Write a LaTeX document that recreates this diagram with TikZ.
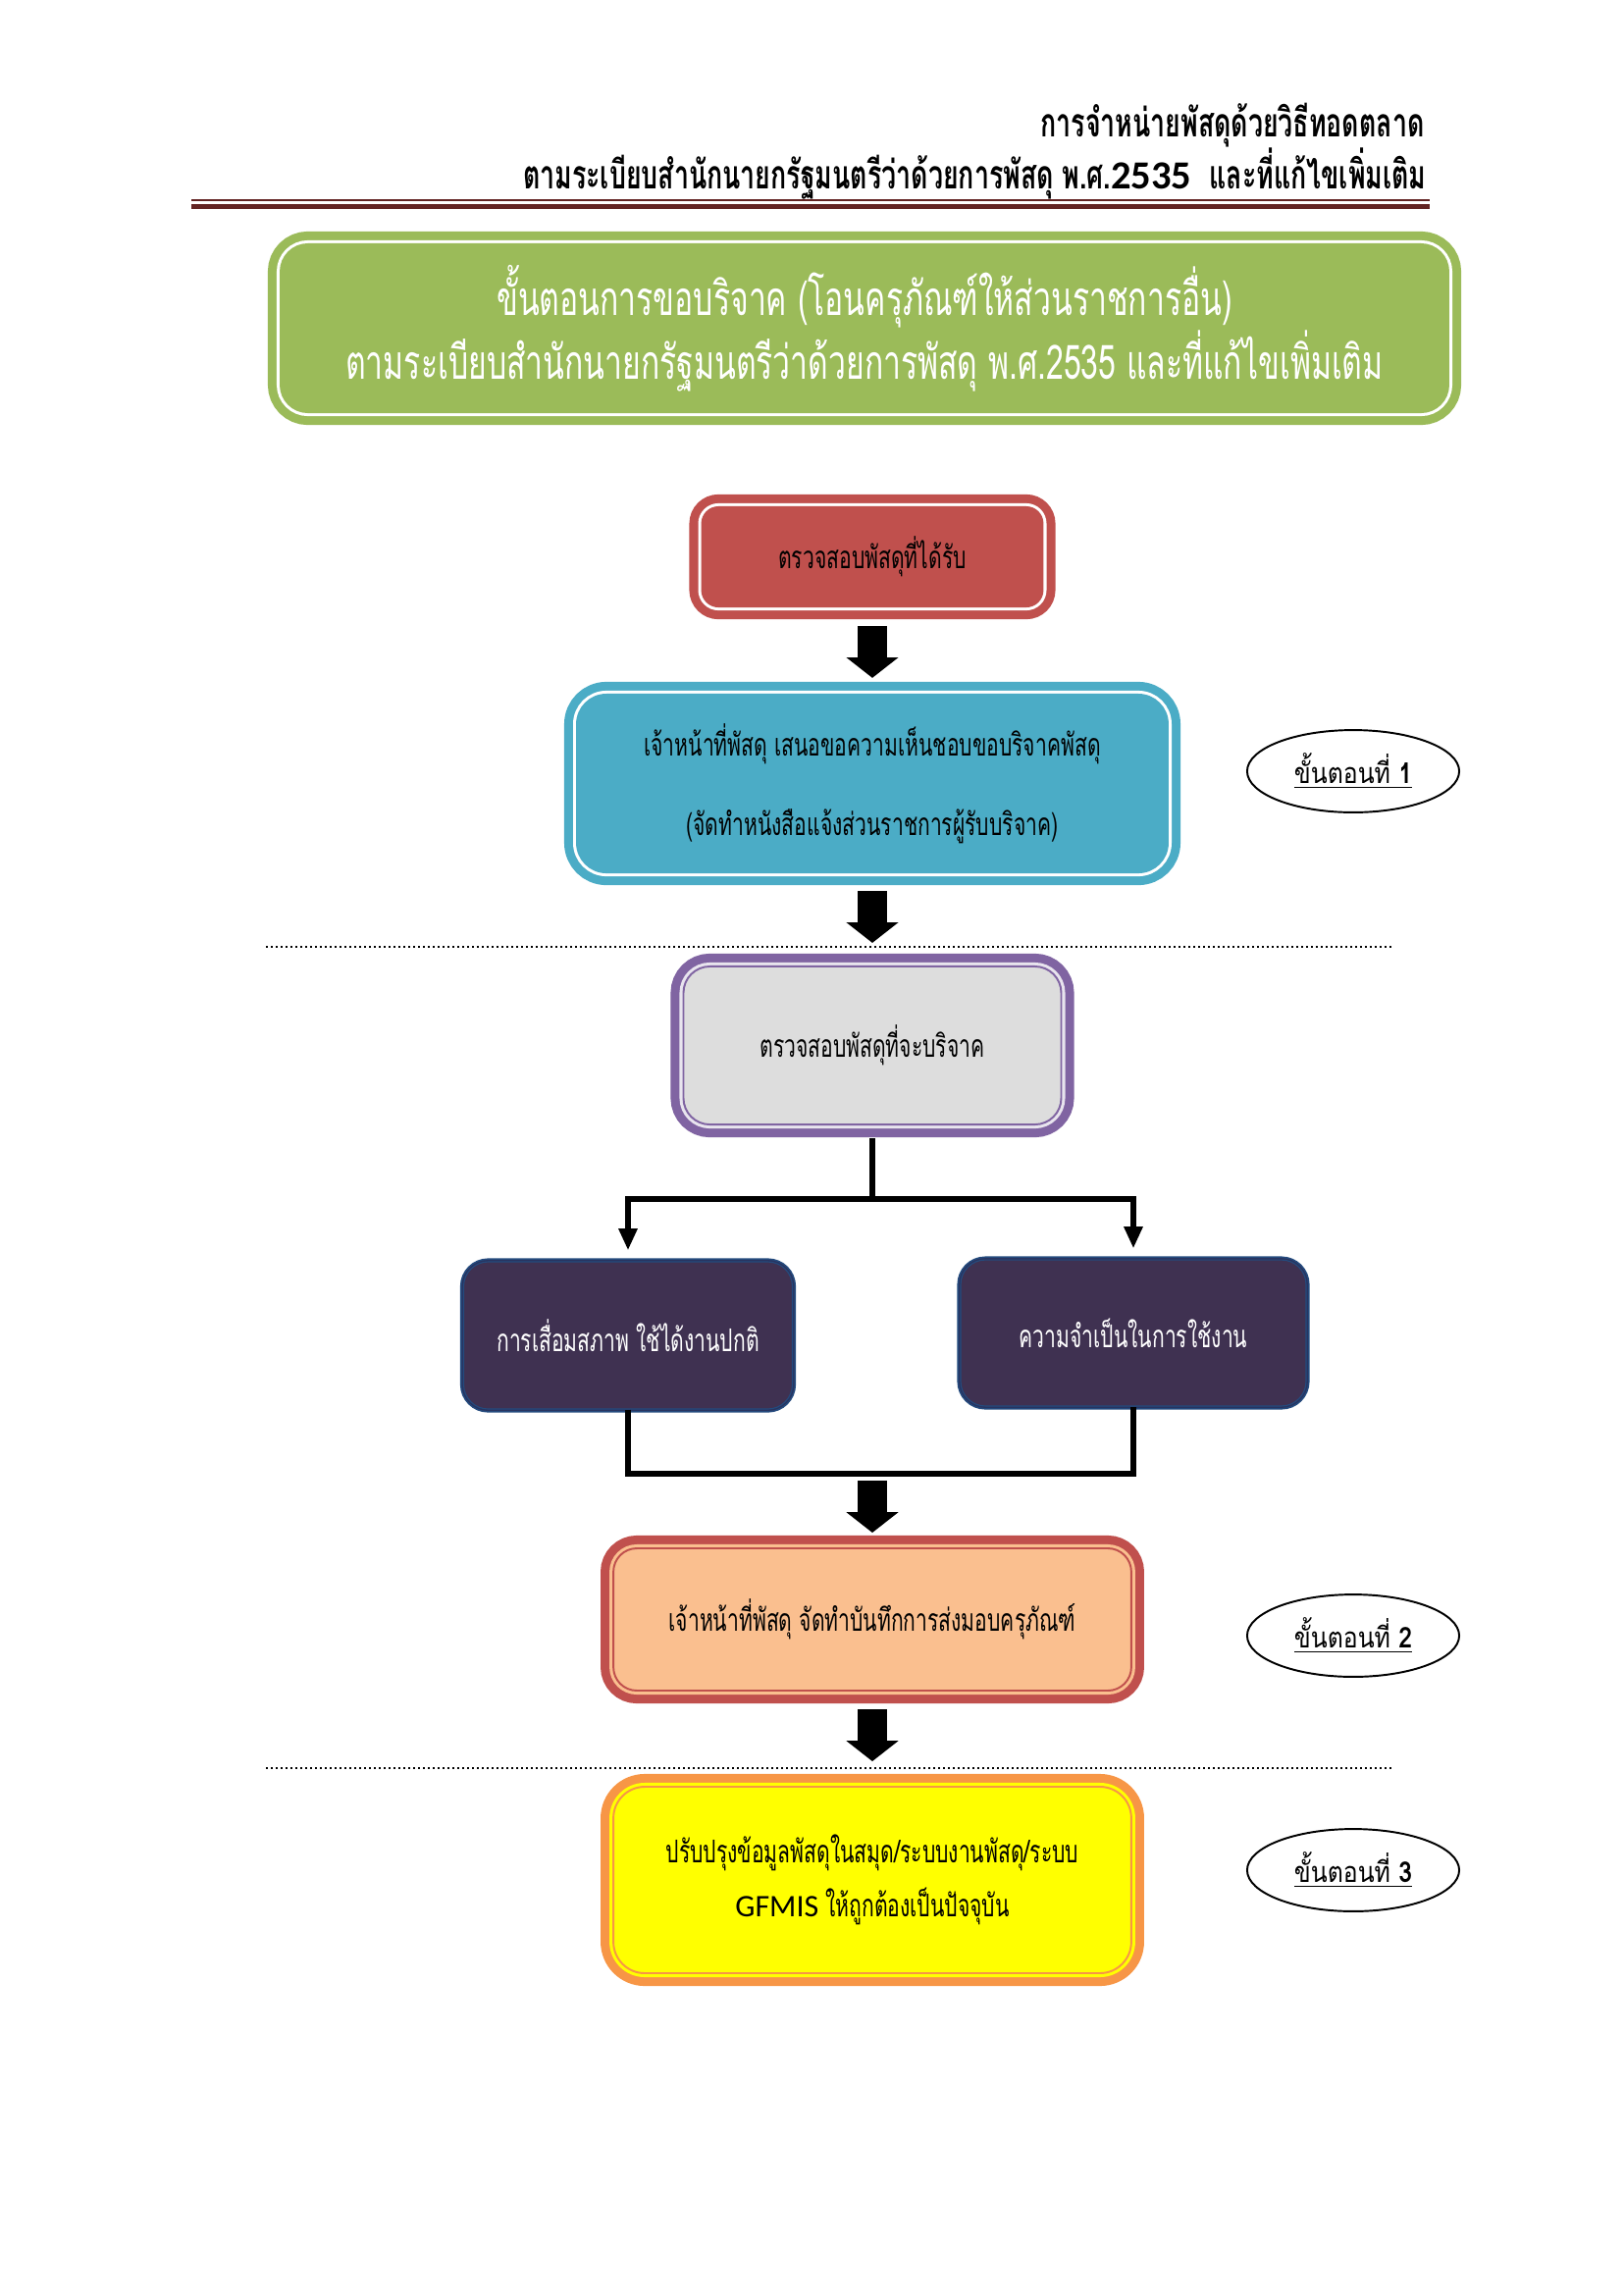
\documentclass[tikz,border=0pt]{standalone}
\usepackage{fontspec}
\usetikzlibrary{shapes.geometric,arrows.meta}
\newfontfamily\thaifont[Script=Thai,FakeStretch=0.66]{Loma}
\newfontfamily\thaistep[Script=Thai,FakeStretch=0.85]{Loma}
\newfontfamily\latinfont{Carlito}
\definecolor{rulered}{RGB}{99,36,35}
\definecolor{titlegreen}{RGB}{155,187,89}
\definecolor{boxred}{RGB}{192,80,77}
\definecolor{boxblue}{RGB}{75,172,198}
\definecolor{boxpurple}{RGB}{128,100,162}
\definecolor{boxgray}{RGB}{221,221,221}
\definecolor{boxlilac}{RGB}{232,228,238}
\definecolor{darkfill}{RGB}{63,49,81}
\definecolor{darkline}{RGB}{36,74,125}
\definecolor{darkgap}{RGB}{40,52,96}
\definecolor{peach}{RGB}{250,191,143}
\definecolor{boxorange}{RGB}{247,150,70}
\definecolor{boxyellow}{RGB}{255,255,0}
\tikzset{
  >={Triangle[width=6.5pt,length=8pt]},
  flowbox/.style n args={4}{rectangle, rounded corners=#4, align=center,
    fill=#3, draw=#1, line width=0.7pt,
    preaction={draw=#1, line width=9.4pt},
    preaction={draw=#2, line width=2.9pt}},
  darkbox/.style={rectangle, rounded corners=9pt, align=center, text=white,
    fill=darkfill, draw=darkline, line width=0.4pt,
    preaction={draw=darkline, line width=2.6pt},
    preaction={draw=darkgap, line width=1.4pt}},
  blockarrow/.style={line width=10.8pt, -{Triangle[width=18.7pt,length=7.5pt]}},
  branch/.style={line width=2.2pt},
  sepline/.style={densely dotted, line width=0.8pt},
  stepmark/.style={ellipse, draw, line width=0.7pt, minimum width=77.8pt,
    minimum height=30.2pt, inner sep=0pt, font=\thaistep\fontsize{10.5}{13}\selectfont},
}
\tikzstyle{boxtext}=[font=\thaifont\fontsize{11.5}{14}\selectfont]
\tikzstyle{headtext}=[inner sep=0pt, anchor=east, font=\thaifont\bfseries\fontsize{14.6}{16}\selectfont]

\begin{document}
\begin{tikzpicture}[x=0.36pt,y=-0.36pt]
  \useasboundingbox (0,0) rectangle (1654,2339);
  % header
  \node[headtext] (head1) at (1452,128) {การจำหน่ายพัสดุด้วยวิธีทอดตลาด};
  \node[headtext] (head2) at (1454,177) {ตามระเบียบสำนักนายกรัฐมนตรีว่าด้วยการพัสดุ พ.ศ.{\latinfont 2535}\ \ และที่แก้ไขเพิ่มเติม};
  \draw[rulered,line width=0.7pt] (195,204) -- (1457,204);
  \draw[rulered,line width=2pt] (195,210.5) -- (1457,210.5);

  % title
  \node[flowbox={titlegreen}{white}{titlegreen}{10pt}, minimum width=428.4pt, minimum height=61.6pt,
        text=white, font=\thaifont\fontsize{17.4}{20.5}\selectfont] (title) at (881,334.5)
    {ขั้นตอนการขอบริจาค (โอนครุภัณฑ์ให้ส่วนราชการอื่น)\\ตามระเบียบสำนักนายกรัฐมนตรีว่าด้วยการพัสดุ พ.ศ.2535 และที่แก้ไขเพิ่มเติม};

  % boxes
  \node[flowbox={boxred}{white}{boxred}{6pt}, boxtext, minimum width=124.9pt, minimum height=36.4pt] (received) at (889,567.5)
    {ตรวจสอบพัสดุที่ได้รับ};
  \node[flowbox={boxblue}{white}{boxblue}{10.8pt}, boxtext, minimum width=216.7pt, minimum height=65.2pt] (propose) at (889,798.5)
    {เจ้าหน้าที่พัสดุ เสนอขอความเห็นชอบขอบริจาคพัสดุ\\[15pt](จัดทำหนังสือแจ้งส่วนราชการผู้รับบริจาค)};
  \node[flowbox={boxpurple}{boxlilac}{boxgray}{9.7pt}, boxtext, minimum width=138.6pt, minimum height=58pt] (inspect) at (889,1065.5)
    {ตรวจสอบพัสดุที่จะบริจาค};
  \node[darkbox, boxtext, minimum width=120.6pt, minimum height=54pt] (worn) at (640,1361)
    {การเสื่อมสภาพ ใช้ได้งานปกติ};
  \node[darkbox, boxtext, minimum width=126.7pt, minimum height=53.6pt] (need) at (1155,1358.5)
    {ความจำเป็นในการใช้งาน};
  \node[flowbox={boxred}{peach}{peach}{8.6pt}, boxtext, minimum width=190pt, minimum height=52.2pt] (handover) at (889,1650.5)
    {เจ้าหน้าที่พัสดุ จัดทำบันทึกการส่งมอบครุภัณฑ์};
  \node[flowbox={boxorange}{boxyellow}{boxyellow}{11.5pt}, boxtext, minimum width=190pt, minimum height=68.4pt] (update) at (889,1916)
    {ปรับปรุงข้อมูลพัสดุในสมุด/ระบบงานพัสดุ/ระบบ\\[6pt]{\latinfont GFMIS} ให้ถูกต้องเป็นปัจจุบัน};

  % step labels
  \node[stepmark] (step1) at (1379,786) {\underline{ขั้นตอนที่ {\bfseries 1}}};
  \node[stepmark] (step2) at (1379,1667) {\underline{ขั้นตอนที่ {\bfseries 2}}};
  \node[stepmark] (step3) at (1379,1906) {\underline{ขั้นตอนที่ {\bfseries 3}}};

  % separators
  \draw[sepline] (271,965) -- (1420,965);
  \draw[sepline] (271,1802) -- (1420,1802);

  % connectors
  \coordinate (split) at (889,1222);
  \coordinate (join) at (889,1502);
  \draw[blockarrow, shorten <=6.8pt, shorten >=5.8pt] (received) -- (propose);
  \draw[blockarrow, shorten <=6.5pt, shorten >=8.3pt] (propose) -- (inspect);
  \draw[branch, shorten <=4.7pt] (inspect) -- (split);
  \draw[branch, ->, shorten >=4pt] (split) -| (worn);
  \draw[branch, ->, shorten >=4pt] (split) -| (need);
  \draw[branch] (worn) |- (join) -| (need);
  \draw[blockarrow, shorten <=2.5pt, shorten >=5.4pt] (join) -- (handover);
  \draw[blockarrow, shorten <=6.5pt, shorten >=9pt] (handover) -- (update);
\end{tikzpicture}
\end{document}
